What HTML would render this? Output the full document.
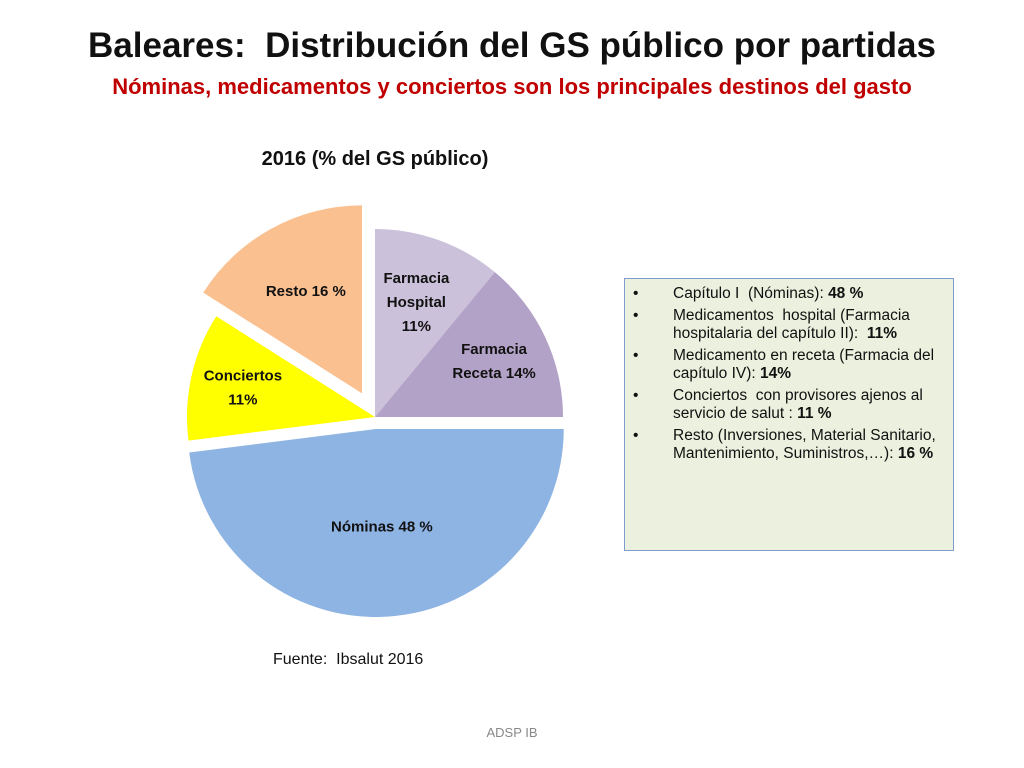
<!DOCTYPE html>
<html><head><meta charset="utf-8"><style>
body{margin:0;background:#fff;font-family:"Liberation Sans",sans-serif;}
#wrap{position:relative;width:1024px;height:768px;overflow:hidden;}
.t{position:absolute;left:0;width:1024px;text-align:center;}
</style></head><body>
<div id="wrap">
<div class="t" style="top:26px;font-size:35px;font-weight:bold;color:#111;">Baleares:&nbsp; Distribución del GS público por partidas</div>
<div class="t" style="top:74px;font-size:22px;font-weight:bold;color:#c00000;">Nóminas, medicamentos y conciertos son los principales destinos del gasto</div>
<div style="position:absolute;left:230px;top:148px;width:290px;text-align:center;font-size:20px;font-weight:bold;color:#111;">2016 (% del GS público)</div>
<svg id="pie" width="1024" height="768" style="position:absolute;left:0;top:0"></svg>
<div style="position:absolute;left:624px;top:278px;width:330px;height:273px;background:#ebf1de;border:1px solid #7f9ccf;box-sizing:border-box;font-size:15.5px;color:#111;line-height:18px;">
<ul style="margin:6px 0 0 0;padding-left:48px;list-style:none;">
<li style="position:relative;margin-bottom:4px;"><span style="position:absolute;left:-40px">•</span>Capítulo I&nbsp; (Nóminas): <b>48 %</b></li>
<li style="position:relative;margin-bottom:4px;"><span style="position:absolute;left:-40px">•</span>Medicamentos&nbsp; hospital (Farmacia hospitalaria del capítulo II):&nbsp; <b>11%</b></li>
<li style="position:relative;margin-bottom:4px;"><span style="position:absolute;left:-40px">•</span>Medicamento en receta (Farmacia del capítulo IV): <b>14%</b></li>
<li style="position:relative;margin-bottom:4px;"><span style="position:absolute;left:-40px">•</span>Conciertos&nbsp; con provisores ajenos al servicio de salut : <b>11 %</b></li>
<li style="position:relative;"><span style="position:absolute;left:-40px">•</span>Resto (Inversiones, Material Sanitario, Mantenimiento, Suministros,…): <b>16 %</b></li>
</ul></div>
<div style="position:absolute;left:273px;top:651px;font-size:16px;color:#111;">Fuente:&nbsp; Ibsalut 2016</div>
<div class="t" style="top:725px;font-size:13px;color:#888;">ADSP IB</div>
</div>
<script>
const categories=["Farmacia Hospital","Farmacia Receta","Nóminas","Conciertos","Resto"];
const values=[11,14,48,11,16];
const labels=[["Farmacia","Hospital","11%"],["Farmacia","Receta 14%"],["Nóminas 48 %"],["Conciertos","11%"],["Resto 16 %"]];
const colors=["#ccc1da","#b3a2c7","#8eb4e3","#ffff00","#fac090"];
const explode=[0,0,12,0,27];
const labelR=[0.65,0.7,0.52,0.72,0.62];
const cx=375,cy=417,R=188;
const svg=document.getElementById('pie');
const NS="http://www.w3.org/2000/svg";
const total=values.reduce((a,b)=>a+b,0);
let acc=0;
function pt(a,r,ox,oy){return [ox+r*Math.sin(a),oy-r*Math.cos(a)];}
values.forEach((v,i)=>{
  const a0=acc/total*2*Math.PI; acc+=v; const a1=acc/total*2*Math.PI;
  const am=(a0+a1)/2;
  const ox=cx+explode[i]*Math.sin(am), oy=cy-explode[i]*Math.cos(am);
  const p0=pt(a0,R,ox,oy),p1=pt(a1,R,ox,oy);
  const path=document.createElementNS(NS,'path');
  path.setAttribute('d',`M${ox},${oy}L${p0[0]},${p0[1]}A${R},${R} 0 ${a1-a0>Math.PI?1:0} 1 ${p1[0]},${p1[1]}Z`);
  path.setAttribute('fill',colors[i]);
  
  
  svg.appendChild(path);
  const lp=pt(am,R*labelR[i],ox,oy);
  const t=document.createElementNS(NS,'text');
  t.setAttribute('text-anchor','middle');
  t.setAttribute('font-size','15');
  t.setAttribute('font-weight','bold');
  t.setAttribute('fill','#111');
  
  
  const n=labels[i].length;
  labels[i].forEach((s,k)=>{
    const ts=document.createElementNS(NS,'tspan');
    ts.setAttribute('x',lp[0]);
    ts.setAttribute('y',lp[1]+5+(k-(n-1)/2)*24);
    ts.textContent=s;
    t.appendChild(ts);
  });
  svg.appendChild(t);
});
</script>
</body></html>
